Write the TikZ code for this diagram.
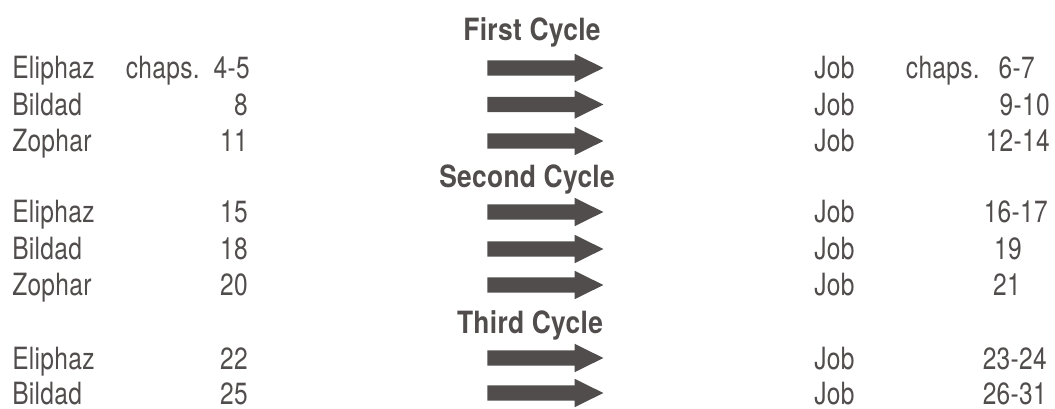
\documentclass[tikz,border=0pt]{standalone}
\usepackage{fontspec}
\setmainfont{TeX Gyre Heros}[FakeStretch=0.8,LetterSpace=1,BoldFeatures={FakeStretch=0.86,LetterSpace=1}]
\usetikzlibrary{shapes.arrows}
\definecolor{inkgray}{RGB}{82,77,77}

\begin{document}
\begin{tikzpicture}[x=0.75pt,y=-0.75pt,
  txt/.style={inner sep=0pt,text height=16.5pt,text depth=0pt,text=inkgray,font=\fontsize{23}{26}\selectfont},
  cyc/.style={txt,font=\fontsize{23}{26}\selectfont\bfseries},
  fat/.style={single arrow,fill=inkgray,draw=none,anchor=tail,minimum height=87pt,
    inner xsep=0pt,inner ysep=5.6pt,single arrow head extend=4.9pt,single arrow tip angle=53}]
\useasboundingbox (0,0) rectangle (1055,409);
% titles
\node[cyc] (c1) at (532,30) {First Cycle};
\node[cyc] (c2) at (527,177) {Second Cycle};
\node[cyc] (c3) at (530,322) {Third Cycle};
% first cycle
\node[txt,anchor=west] (e1) at (12,68) {Eliphaz}; \node[txt,anchor=east] (e1c) at (200,68) {chaps.};
\node[txt,anchor=east] (e1n) at (250,68) {4-5};
\node[txt,anchor=west] (b1) at (12,104.5) {Bildad}; \node[txt,anchor=east] (b1n) at (248,104.5) {8};
\node[txt,anchor=west] (z1) at (12,141) {Zophar}; \node[txt,anchor=east] (z1n) at (248,141) {11};
\node[fat] (a1) at (487,68) {}; \node[fat] (a2) at (487,104.5) {}; \node[fat] (a3) at (487,141) {};
\node[txt,anchor=west] (j1) at (814,68) {Job}; \node[txt,anchor=east] (j1c) at (980,68) {chaps.};
\node[txt,anchor=east] (j1n) at (1035,68) {6-7};
\node[txt,anchor=west] (j2) at (814,104.5) {Job}; \node[txt,anchor=east] (j2n) at (1050,104.5) {9-10};
\node[txt,anchor=west] (j3) at (814,141) {Job}; \node[txt,anchor=east] (j3n) at (1050,141) {12-14};
% second cycle
\node[txt,anchor=west] (e2) at (12,212) {Eliphaz}; \node[txt,anchor=east] (e2n) at (248,212) {15};
\node[txt,anchor=west] (b2) at (12,249) {Bildad}; \node[txt,anchor=east] (b2n) at (248,249) {18};
\node[txt,anchor=west] (z2) at (12,285) {Zophar}; \node[txt,anchor=east] (z2n) at (248,285) {20};
\node[fat] (a4) at (487,212) {}; \node[fat] (a5) at (487,249) {}; \node[fat] (a6) at (487,285) {};
\node[txt,anchor=west] (j4) at (814,212) {Job}; \node[txt,anchor=east] (j4n) at (1048,212) {16-17};
\node[txt,anchor=west] (j5) at (814,249) {Job}; \node[txt] (j5n) at (1008,249) {19};
\node[txt,anchor=west] (j6) at (814,285) {Job}; \node[txt] (j6n) at (1007,285) {21};
% third cycle
\node[txt,anchor=west] (e3) at (12,358) {Eliphaz}; \node[txt,anchor=east] (e3n) at (248,358) {22};
\node[txt,anchor=west] (b3) at (12,393) {Bildad}; \node[txt,anchor=east] (b3n) at (248,393) {25};
\node[fat] (a7) at (487,358) {}; \node[fat] (a8) at (487,393) {};
\node[txt,anchor=west] (j7) at (814,358) {Job}; \node[txt,anchor=east] (j7n) at (1047,358) {23-24};
\node[txt,anchor=west] (j8) at (814,393) {Job}; \node[txt,anchor=east] (j8n) at (1047,393) {26-31};
\end{tikzpicture}
\end{document}
